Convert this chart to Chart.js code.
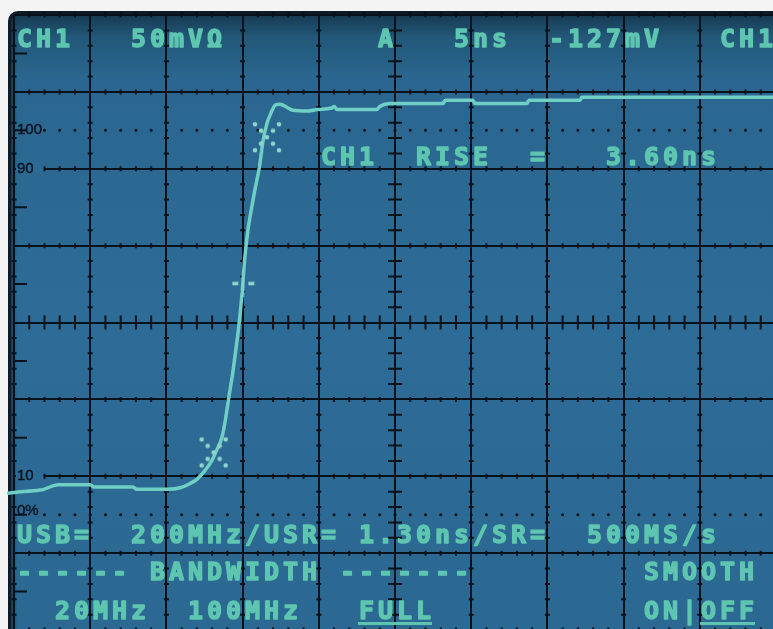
<!DOCTYPE html>
<html>
<head>
<meta charset="utf-8">
<script src="https://cdn.jsdelivr.net/npm/chart.js@4/dist/chart.umd.min.js"></script>
<style>
html,body{margin:0;padding:0;background:#f3f3f3;overflow:hidden;width:773px;height:629px}
#c{position:absolute;left:0;top:0}
</style>
</head>
<body>
<canvas id="c" width="790" height="645"></canvas>
<script>
// ---- data (in graticule divisions: x 0..10 @ 5 ns/div, y 0..8) ----
const traceX = [-0.09, 0.00, 0.34, 0.39, 0.58, 1.00, 1.05, 1.56, 1.61, 2.02, 2.18, 2.30, 2.40, 2.51, 2.60, 2.66,
                2.73, 2.78, 2.82, 2.87, 2.91, 2.95, 2.99, 3.03, 3.07, 3.12, 3.16, 3.22, 3.27, 3.32, 3.37, 3.43,
                3.49, 3.58, 3.66, 3.85, 3.98, 4.17, 4.20, 4.24, 4.76, 4.80, 4.93, 5.63, 5.66, 6.02, 6.05, 6.73,
                6.76, 7.43, 7.45, 10.02];
const traceY = [1.78, 1.79, 1.82, 1.83, 1.89, 1.89, 1.86, 1.86, 1.83, 1.83, 1.85, 1.90, 1.96, 2.08, 2.21, 2.34,
                2.51, 2.77, 3.03, 3.34, 3.64, 3.95, 4.35, 4.85, 5.20, 5.50, 5.72, 6.02, 6.37, 6.59, 6.72, 6.83,
                6.84, 6.80, 6.76, 6.75, 6.77, 6.79, 6.81, 6.77, 6.77, 6.81, 6.85, 6.85, 6.89, 6.89, 6.85, 6.85,
                6.89, 6.89, 6.93, 6.93];
const cursorX = [2.62, 3.32];     // 10% and 90% cursor marks
const cursorY = [2.31, 6.41];
const midX = [3.01];              // mid-level cursor
const midY = [4.51];
const refLevels = [1.5, 6.5];     // 0% and 100% dotted levels
const refStart = 0.4;
const levelValues = [1.5, 2, 6, 6.5];
const levelLabels = ['0%', '10', '90', '100'];
const textRows = [
  'CH1   50mV\u03A9        A   5ns  -127mV   CH1',
  '                CH1  RISE  =   3.60ns',
  'USB=  200MHz/USR= 1.30ns/SR=  500MS/s',
  '------ BANDWIDTH -------         SMOOTH',
  '  20MHz  100MHz   FULL           ON|OFF'
];
const underlines = [[4, 18, 21], [4, 36, 38]]; // row, first col, last col

// ---- styles ----
const GRID = '#07121b';
const TEXT = '#5ec6b0';
const TRACE = '#70cfc5';
const BLUE = '#2d6c97';
const rowBase = [47, 165, 543, 580, 619];
const col0 = 17, cell = 19;

function makeX() {
  const c = document.createElement('canvas');
  c.width = 34; c.height = 36;
  const g = c.getContext('2d');
  g.fillStyle = '#8fd6cc';
  const cx = 17, cy = 18;
  [[0,0],[-6,-6.5],[6,-6.5],[-6,6.5],[6,6.5],[-12,-13],[12,-13],[-12,13],[12,13]].forEach(([dx,dy]) => {
    g.beginPath(); g.arc(cx+dx, cy+dy, 2.3, 0, Math.PI*2); g.fill();
  });
  return c;
}
function makeMid() {
  const c = document.createElement('canvas');
  c.width = 30; c.height = 40;
  const g = c.getContext('2d');
  g.fillStyle = '#8fd6cc';
  g.fillRect(15-11, 20-1.5, 6, 3.5);
  g.fillRect(15+5, 20-1.5, 6, 3.5);
  g.fillStyle = 'rgba(143,214,204,0.6)';
  g.fillRect(14, 14, 2, 20);
  return c;
}

const bgPlugin = {
  id: 'bg',
  beforeDraw(chart) {
    const ctx = chart.ctx, W = chart.width, H = chart.height;
    ctx.save();
    ctx.fillStyle = '#f4f4f4';
    ctx.fillRect(0, 0, W, H);
    ctx.fillStyle = '#0f1b25';
    ctx.beginPath(); ctx.roundRect(8, 11, W + 40, H + 40, 10); ctx.fill();
    const gr = ctx.createLinearGradient(0, 15, 0, 630);
    gr.addColorStop(0, '#173a52');
    gr.addColorStop(0.035, '#225778');
    gr.addColorStop(0.1, '#2a668f');
    gr.addColorStop(0.5, BLUE);
    gr.addColorStop(1, '#2b6892');
    ctx.fillStyle = gr;
    ctx.beginPath(); ctx.roundRect(11, 15, W + 20, H + 20, 7); ctx.fill();
    const gl = ctx.createLinearGradient(11, 0, 17, 0);
    gl.addColorStop(0, 'rgba(15,27,37,0.6)');
    gl.addColorStop(1, 'rgba(15,27,37,0)');
    ctx.fillStyle = gl;
    ctx.fillRect(11, 15, 6, H);
    ctx.restore();
  }
};

const ticksPlugin = {
  id: 'minorTicks',
  beforeDatasetsDraw(chart) {
    const ctx = chart.ctx, xs = chart.scales.x, ys = chart.scales.y;
    const left = xs.getPixelForValue(0);
    ctx.save();
    // clear graticule behind the level labels that sit on grid lines
    ctx.fillStyle = BLUE;
    levelValues.forEach((v, i) => {
      if (Number.isInteger(v)) {
        const y = ys.getPixelForValue(v);
        ctx.fillRect(left + 2, y - 3, 28, 6);
      }
    });
    ctx.strokeStyle = GRID; ctx.lineWidth = 2;
    ctx.beginPath();
    for (let gx = 0; gx <= 10; gx++) {
      const px = xs.getPixelForValue(gx);
      const len = gx === 5 ? 7 : 2.5;
      for (let k = 1; k < 40; k++) {
        if (k % 5 === 0) continue;
        const py = ys.getPixelForValue(k * 0.2);
        ctx.moveTo(px - len, py); ctx.lineTo(px + len, py);
      }
    }
    for (let gy = 0; gy <= 8; gy++) {
      const py = ys.getPixelForValue(gy);
      const len = gy === 4 ? 7 : 2.5;
      for (let k = 1; k < 50; k++) {
        if (k % 5 === 0) continue;
        if ((gy === 2 || gy === 6) && k < 2) continue;
        const px = xs.getPixelForValue(k * 0.2);
        ctx.moveTo(px, py - len); ctx.lineTo(px, py + len);
      }
    }
    for (let j = 0; j < 8; j++) {
      const py = ys.getPixelForValue(j + 0.5);
      ctx.moveTo(left, py); ctx.lineTo(left + 13, py);
    }
    ctx.stroke();
    // level labels
    ctx.fillStyle = '#08141d';
    ctx.strokeStyle = '#08141d';
    ctx.lineWidth = 0.4;
    ctx.font = '15px "Liberation Sans", Arial, sans-serif';
    ctx.textBaseline = 'middle';
    ctx.textAlign = 'left';
    levelValues.forEach((v, i) => {
      const y = ys.getPixelForValue(v) + (v === 1.5 ? -4 : 0);
      ctx.fillText(levelLabels[i], left + 3, y);
      ctx.strokeText(levelLabels[i], left + 3, y);
    });
    ctx.restore();
  }
};

const textPlugin = {
  id: 'overlayText',
  afterDraw(chart) {
    const ctx = chart.ctx;
    ctx.save();
    ctx.fillStyle = TEXT;
    ctx.strokeStyle = TEXT;
    ctx.lineWidth = 1.4;
    ctx.lineJoin = 'round';
    ctx.font = 'bold 25px "DejaVu Sans Mono", monospace';
    ctx.textBaseline = 'alphabetic';
    ctx.textAlign = 'left';
    textRows.forEach((row, r) => {
      [...row].forEach((ch, i) => {
        if (ch !== ' ') {
          ctx.fillText(ch, col0 + i * cell, rowBase[r]);
          ctx.strokeText(ch, col0 + i * cell, rowBase[r]);
        }
      });
    });
    underlines.forEach(([r, a, b]) => {
      ctx.fillRect(col0 + a * cell - 1, rowBase[r] + 3, (b - a + 1) * cell - 2, 3);
    });
    ctx.restore();
  }
};

const tracePts = traceX.map((x, i) => ({x, y: traceY[i]}));
const refSets = refLevels.map(lv => ({
  data: [{x: refStart, y: lv}, {x: 10, y: lv}],
  showLine: true, borderColor: GRID, borderWidth: 3, borderDash: [0, 15.24],
  borderCapStyle: 'round', pointRadius: 0, order: 5
}));

new Chart(document.getElementById('c'), {
  type: 'scatter',
  data: {
    datasets: [
      { data: tracePts, showLine: true, borderColor: TRACE, borderWidth: 3.5, pointRadius: 0,
        cubicInterpolationMode: 'monotone', clip: false, order: 2 },
      ...refSets,
      { data: cursorX.map((x, i) => ({x, y: cursorY[i]})), pointStyle: makeX(), order: 1 },
      { data: midX.map((x, i) => ({x, y: midY[i]})), pointStyle: makeMid(), order: 1 }
    ]
  },
  options: {
    responsive: false,
    animation: false,
    events: [],
    layout: { padding: { left: 14, top: 15, right: 14, bottom: 15 } },
    plugins: { legend: { display: false }, tooltip: { enabled: false } },
    scales: {
      x: { type: 'linear', min: 0, max: 10,
           ticks: { display: false, stepSize: 1 },
           grid: { color: GRID, lineWidth: 2, drawTicks: false },
           border: { display: true, color: GRID, width: 2 } },
      y: { type: 'linear', min: 0, max: 8,
           ticks: { display: false, stepSize: 1 },
           grid: { color: GRID, lineWidth: 2, drawTicks: false },
           border: { display: true, color: GRID, width: 2 } }
    }
  },
  plugins: [bgPlugin, ticksPlugin, textPlugin]
});
</script>
</body>
</html>
